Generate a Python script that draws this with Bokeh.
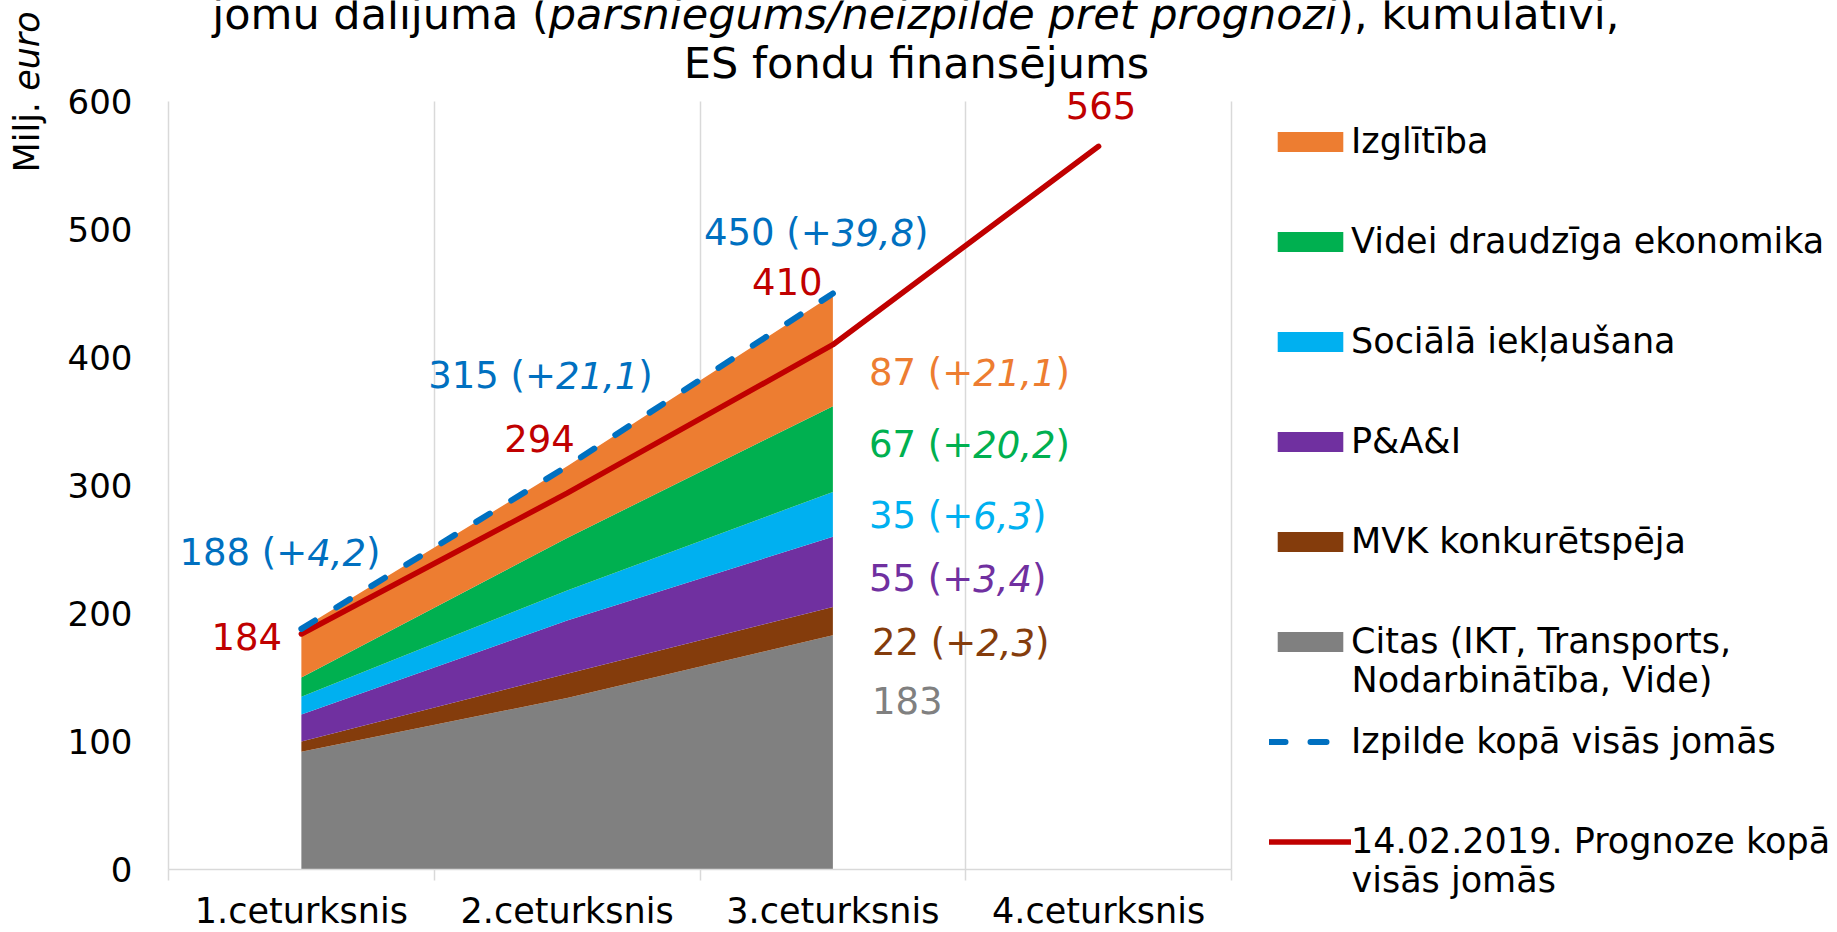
import math
from bokeh.plotting import figure
from bokeh.models import (ColumnDataSource, Range1d, FixedTicker, Legend, LegendItem,
                          Label, LabelSet)
from bokeh.core.properties import value
from bokeh.embed import file_html
from bokeh.resources import INLINE

# ---------------- data ----------------
quarters = ["1.ceturksnis", "2.ceturksnis", "3.ceturksnis", "4.ceturksnis"]
qx = [1, 2, 3, 4]
qx_actual = [1, 2, 3]

# stacked areas (bottom -> top), values for Q1..Q3, milj. euro
citas = [92, 134, 183]
mvk = [8, 19, 22]
pai = [21, 41.5, 55]
soc = [14, 23.5, 35]
videi = [15, 41, 67]
izgl = [38, 56, 87]

actual_total = [188, 315, 450]
actual_delta = ["4,2", "21,1", "39,8"]
forecast_total = [184, 294, 410, 565]

# Q3 labels per area (top -> bottom)
q3_values = [87, 67, 35, 55, 22, 183]
q3_delta = ["21,1", "20,2", "6,3", "3,4", "2,3", ""]

names = ["Citas (IKT, Transports,", "MVK konkurētspēja", "P&A&I",
         "Sociālā iekļaušana", "Videi draudzīga ekonomika", "Izglītība"]
line_names = ["Izpilde kopā visās jomās", "14.02.2019. Prognoze kopā"]
wrapped_lines = ["Nodarbinātība, Vide)", "visās jomās"]

title_l1 = ["jomu dalījuma (", "pārsniegums/neizpilde pret prognozi", "), kumulatīvi,"]
title_l2 = "ES fondu finansējums"
ylabel = ["Milj. ", "euro"]
yticks = [0, 100, 200, 300, 400, 500, 600]

# ---------------- styles / geometry ----------------
colors = ["#808080", "#843C0C", "#7030A0", "#00B0F0", "#00B050", "#ED7D31"]
BLUE = "#0070C0"
RED = "#C00000"
GRID = "#D9D9D9"
FONT = "DejaVu Sans"

CW, CH = 1837, 932          # canvas
AX_X, AX_Y = 168, 869       # pixel position of the axes origin (x=0.5, y=0)
PX_CAT = 265.75             # pixels per category
PX_UNIT = 1.28              # pixels per milj. euro

# DejaVu Sans advance widths (em)
W = {' ': .318, '(': .390, ')': .390, '+': .838, ',': .318, '.': .318, '/': .337,
     'a': .613, 'ā': .613, 'b': .635, 'c': .550, 'd': .635, 'e': .615, 'ē': .615, 'f': .352,
     'g': .635, 'h': .634, 'i': .278, 'ī': .278, 'j': .278, 'k': .579, 'l': .278, 'm': .974,
     'n': .634, 'o': .612, 'p': .635, 'r': .411, 's': .521, 't': .392, 'u': .634, 'v': .592,
     'z': .525, 'E': .632, 'S': .635, 'M': .863}
for d in "0123456789":
    W[d] = .636


def tw(s, size):
    return sum(W.get(ch, 0.6) for ch in s) * size


x_range = Range1d(0.5 - AX_X / PX_CAT, 0.5 + (CW - AX_X) / PX_CAT)
y_range = Range1d(-(CH - AX_Y) / PX_UNIT, AX_Y / PX_UNIT)

p = figure(width=CW, height=CH, x_range=x_range, y_range=y_range,
           output_backend="svg", toolbar_location=None,
           min_border_left=0, min_border_right=0, min_border_top=0, min_border_bottom=0)
p.outline_line_color = None
p.background_fill_color = "white"
p.border_fill_color = "white"

# y axis, fixed at x = 0.5
p.yaxis.fixed_location = 0.5
p.yaxis.bounds = (0, 600)
p.yaxis.ticker = FixedTicker(ticks=yticks)
p.yaxis.major_tick_line_color = None
p.yaxis.minor_tick_line_color = None
p.yaxis.major_tick_out = 0
p.yaxis.major_tick_in = 0
p.yaxis.axis_line_color = GRID
p.yaxis.axis_line_width = 1.5
p.yaxis.major_label_text_font = FONT
p.yaxis.major_label_text_font_size = "34px"
p.yaxis.major_label_text_color = "black"
p.yaxis.major_label_standoff = 36

# x axis, fixed at y = 0, category labels at centres, ticks at boundaries
p.xaxis.fixed_location = 0
p.xaxis.bounds = (0.5, 4.5)
p.xaxis.ticker = FixedTicker(ticks=qx, minor_ticks=[0.5, 1.5, 2.5, 3.5, 4.5])
p.xaxis.major_label_overrides = {q: t for q, t in zip(qx, quarters)}
p.xaxis.axis_line_color = GRID
p.xaxis.axis_line_width = 1.5
p.xaxis.major_tick_line_color = None
p.xaxis.major_tick_out = 0
p.xaxis.major_tick_in = 0
p.xaxis.minor_tick_line_color = GRID
p.xaxis.minor_tick_line_width = 1.5
p.xaxis.minor_tick_out = 11
p.xaxis.minor_tick_in = 0
p.xaxis.major_label_text_font = FONT
p.xaxis.major_label_text_font_size = "35px"
p.xaxis.major_label_text_color = "black"
p.xaxis.major_label_standoff = 10

p.ygrid.visible = False
p.xgrid.ticker = FixedTicker(ticks=[1.5, 2.5, 3.5, 4.5])
p.xgrid.cross_bounds = (0, 600)
p.xgrid.grid_line_color = GRID
p.xgrid.grid_line_width = 1.5

# stacked areas
layers = [citas, mvk, pai, soc, videi, izgl]
base = [0, 0, 0]
area_renderers = []
tops_q3 = []
for vals, col in zip(layers, colors):
    top = [b + v for b, v in zip(base, vals)]
    r = p.varea(x=qx_actual, y1=base, y2=top, fill_color=col)
    area_renderers.append(r)
    tops_q3.append(top[2])
    base = top

r_fc = p.line(qx, forecast_total, line_color=RED, line_width=5.5, line_cap="round",
              line_join="round")
r_act = p.line(qx_actual, actual_total, line_color=BLUE, line_width=6, line_dash="16 25",
               line_cap="round")

LS = 37  # data label font size


def labelset(xs, ys, texts, xo, yo, color, style="normal"):
    src = ColumnDataSource(dict(x=xs, y=ys, text=texts, xo=xo, yo=yo))
    p.add_layout(LabelSet(x="x", y="y", text="text", source=src, x_offset="xo", y_offset="yo",
                          text_align="left", text_baseline="middle", text_font=value(FONT),
                          text_font_size=value(f"{LS}px"), text_font_style=value(style),
                          text_color=value(color)))


def mixed_labels(xs, ys, pre, mid, suf, dx, dy, color):
    x_mid = [d + tw(a, LS) for d, a in zip(dx, pre)]
    x_suf = [xm + tw(m, LS) for xm, m in zip(x_mid, mid)]
    labelset(xs, ys, pre, dx, dy, color)
    labelset(xs, ys, mid, x_mid, dy, color, "italic")
    labelset(xs, ys, suf, x_suf, dy, color)


# blue totals
mixed_labels(qx_actual, actual_total,
             [f"{v} (+" for v in actual_total], actual_delta, [")"] * 3,
             [-122, -139, -129], [76, 91, 61], BLUE)

# red forecast labels
labelset(qx, forecast_total, [str(v) for v in forecast_total],
         [-90, -63, -81, -33], [-2.5, 55, 63, 41], RED)

# Q3 area labels (top -> bottom)
q3_tops = list(reversed(tops_q3))
q3_cols = list(reversed(colors))
q3_dx = [36, 36, 36, 36, 39, 39]
q3_dy = [-77.7, -38.4, -23.6, -41.8, -35.4, -65.2]
for i in range(6):
    if q3_delta[i]:
        mixed_labels([3], [q3_tops[i]], [f"{q3_values[i]} (+"], [q3_delta[i]], [")"],
                     [q3_dx[i]], [q3_dy[i]], q3_cols[i])
    else:
        labelset([3], [q3_tops[i]], [str(q3_values[i])], [q3_dx[i]], [q3_dy[i]], q3_cols[i])

# title (two lines, first one partially cut at the top as in the original)
TS = 43
tcx = 748
tot = sum(tw(s, TS) for s in title_l1)
xo = tcx - tot / 2
for s, st in zip(title_l1, ["normal", "italic", "normal"]):
    p.add_layout(Label(x=0.5, y=600, x_offset=xo, y_offset=88, text=s, text_font=FONT,
                       text_font_size=f"{TS}px", text_font_style=st, text_color="black",
                       text_align="left", text_baseline="alphabetic"))
    xo += tw(s, TS)
p.add_layout(Label(x=0.5, y=600, x_offset=tcx, y_offset=39, text=title_l2, text_font=FONT,
                   text_font_size=f"{TS}px", text_color="black", text_align="center",
                   text_baseline="alphabetic"))

# y axis label at the top of the axis
yo = -71
for s, st in zip(ylabel, ["normal", "italic"]):
    p.add_layout(Label(x=0.5, y=600, x_offset=-142, y_offset=yo, text=s, angle=math.pi / 2,
                       text_font=FONT, text_font_size="35px", text_font_style=st,
                       text_color="black", text_align="left", text_baseline="alphabetic"))
    yo += tw(s, 35)

# legend
LG_FS = 35
items = [LegendItem(label=names[i], renderers=[area_renderers[i]]) for i in range(5, -1, -1)]
items.append(LegendItem(label=line_names[0], renderers=[r_act]))
items.append(LegendItem(label=line_names[1], renderers=[r_fc]))
legend = Legend(items=items, location=(1269, 71), orientation="vertical",
                label_text_font=FONT, label_text_font_size=f"{LG_FS}px", label_text_color="black",
                label_height=40, glyph_height=25, glyph_width=82, spacing=60,
                padding=0, margin=0, label_standoff=0,
                border_line_color=None, background_fill_alpha=0)
p.add_layout(legend)

# wrapped second lines of two legend entries
for s, yoff in zip(wrapped_lines, [189.5, -10]):
    p.add_layout(Label(x=0.5, y=0, x_offset=1351 - AX_X, y_offset=yoff, text=s, text_font=FONT,
                       text_font_size=f"{LG_FS}px", text_color="black", text_align="left",
                       text_baseline="middle"))

open("out.html", "w").write(file_html(p, INLINE))
